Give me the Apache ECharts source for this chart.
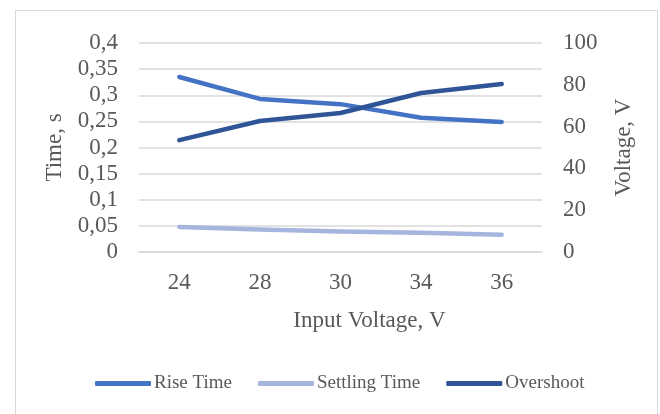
<!DOCTYPE html>
<html>
<head>
<meta charset="utf-8">
<script src="https://cdn.jsdelivr.net/npm/echarts@6/dist/echarts.min.js"></script>
<style>
  html, body { margin: 0; padding: 0; background: #fff; }
  #frame { position: absolute; left: 15px; top: 10px; width: 641px; height: 420px; border: 1px solid #d9d9d9; }
  #chart { position: absolute; left: 0; top: 0; width: 660px; height: 414px; }
</style>
</head>
<body>
<div id="frame"></div>
<div id="chart"></div>
<script>
const categories = ['24', '28', '30', '34', '36']
const riseTime = [0.335, 0.293, 0.283, 0.257, 0.249]
const settlingTime = [0.048, 0.043, 0.039, 0.037, 0.033]
const overshoot = [53.5, 62.7, 66.5, 76.1, 80.4]

const textColor = '#595959'
const fontFamily = '"Liberation Serif", "Times New Roman", serif'

function comma (v) {
  return String(+v.toFixed(2)).replace('.', ',')
}

function lineSeries (name, data, color, yAxisIndex) {
  return {
    name: name,
    type: 'line',
    data: data,
    yAxisIndex: yAxisIndex,
    symbol: 'none',
    smooth: false,
    lineStyle: { width: 4.5, color: color, cap: 'round', join: 'round' },
    itemStyle: { color: color }
  }
}

const chart = echarts.init(document.getElementById('chart'), null, { renderer: 'canvas' })
chart.setOption({
  animation: false,
  textStyle: { fontFamily: fontFamily },
  grid: { left: 139, right: 118, top: 43, bottom: 162 },
  legend: {
    bottom: 16,
    left: 90,
    itemWidth: 56,
    itemHeight: 5,
    itemGap: 26,
    icon: 'roundRect',
    textStyle: { color: textColor, fontSize: 19, fontFamily: fontFamily, padding: [0, 0, 0, -2] },
    data: ['Rise Time', 'Settling Time', 'Overshoot']
  },
  xAxis: {
    type: 'category',
    data: categories,
    name: 'Input Voltage, V',
    nameLocation: 'middle',
    nameGap: 57,
    nameTextStyle: { color: textColor, fontSize: 23, fontFamily: fontFamily, padding: [0, 0, 0, 58] },
    axisLine: { lineStyle: { color: '#d9d9d9', width: 1.5 } },
    axisTick: { show: false },
    axisLabel: { color: textColor, fontSize: 23, margin: 19, fontFamily: fontFamily }
  },
  yAxis: [
    {
      type: 'value',
      min: 0,
      max: 0.4,
      interval: 0.05,
      name: 'Time, s',
      nameLocation: 'middle',
      nameGap: 72,
      nameTextStyle: { color: textColor, fontSize: 23, fontFamily: fontFamily },
      axisLine: { show: false },
      axisTick: { show: false },
      axisLabel: { color: textColor, fontSize: 23, margin: 21, fontFamily: fontFamily, formatter: comma },
      splitLine: { lineStyle: { color: '#d9d9d9', width: 1.5 } }
    },
    {
      type: 'value',
      min: 0,
      max: 100,
      interval: 20,
      name: 'Voltage, V',
      nameLocation: 'middle',
      nameGap: 70,
      nameTextStyle: { color: textColor, fontSize: 23, fontFamily: fontFamily },
      axisLine: { show: false },
      axisTick: { show: false },
      axisLabel: { color: textColor, fontSize: 23, margin: 21, fontFamily: fontFamily },
      splitLine: { show: false }
    }
  ],
  series: [
    lineSeries('Rise Time', riseTime, '#4472C4', 0),
    lineSeries('Settling Time', settlingTime, '#A5B5DD', 0),
    lineSeries('Overshoot', overshoot, '#2F5597', 1)
  ]
})
</script>
</body>
</html>
